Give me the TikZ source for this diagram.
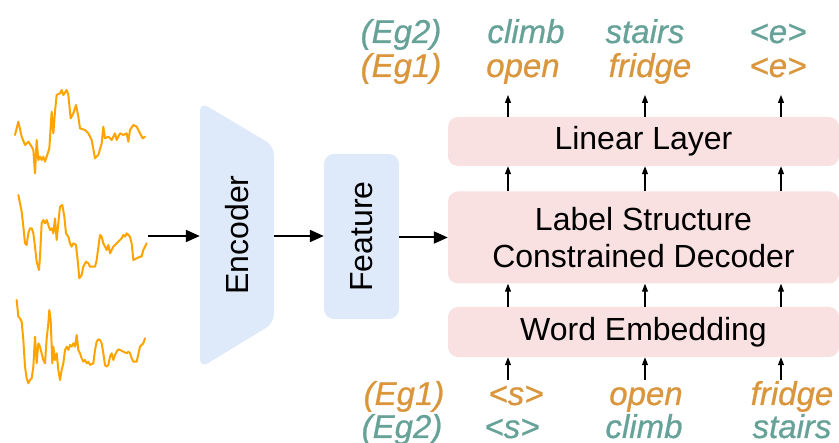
\documentclass[tikz,border=0pt]{standalone}
\usepackage{fontspec}
\setmainfont{Liberation Sans}
\newfontfamily\labfont{Liberation Sans}[ItalicFeatures={FakeBold=0.7}]
\usetikzlibrary{arrows.meta}
\definecolor{encblue}{RGB}{222,233,249}
\definecolor{decpink}{RGB}{249,224,225}
\definecolor{teal2}{RGB}{102,162,152}
\definecolor{orng}{RGB}{218,150,60}
\definecolor{wave}{RGB}{255,163,0}
\tikzset{
  bigarr/.style={line width=2pt,-{Triangle[length=14pt,width=12pt]}},
  smarr/.style={line width=1.1pt,-{Triangle[length=8pt,width=6pt]}},
  pinkbox/.style={fill=decpink,rounded corners=10pt,inner sep=0pt},
  bluebox/.style={fill=encblue,rounded corners=10pt,inner sep=0pt},
  boxtext/.style={font=\fontsize{32}{37.5}\selectfont,align=center},
  lab/.style={font=\labfont\fontsize{33}{37}\selectfont\itshape,anchor=base},
  wavy/.style={draw=wave,line width=2pt,line join=round,line cap=round},
}
\begin{document}
\begin{tikzpicture}[x=1pt,y=-1pt]
\useasboundingbox (0,0) rectangle (839,443);
% waveforms
\begin{scope}[shift={(0,80)},scale=0.33333]
\draw[wavy] (45,165)--(55,125)--(65,170)--(75,195)--(85,185)--(95,200)--(100,210)--(105,280)--(110,180)--(115,240)--(120,230)--(125,240)--(130,230)--(135,245)--(140,230)--(148,205)--(155,95)--(160,160)--(165,95)--(170,45)--(180,40)--(185,30)--(190,45)--(200,30)--(205,45)--(212,115)--(220,100)--(228,75)--(235,110)--(240,145)--(255,150)--(265,160)--(275,180)--(285,235)--(295,225)--(305,190)--(310,140)--(315,175)--(325,170)--(335,180)--(345,160)--(350,180)--(360,160)--(370,165)--(380,160)--(385,185)--(390,150)--(400,135)--(410,140)--(420,160)--(428,175)--(435,170);
\draw[wavy] (55,345)--(60,370)--(65,395)--(70,440)--(75,490)--(80,495)--(85,460)--(90,445)--(95,445)--(100,460)--(105,500)--(110,545)--(117,570)--(120,530)--(125,430)--(130,420)--(135,430)--(140,420)--(145,435)--(150,450)--(155,445)--(160,460)--(165,415)--(170,480)--(175,430)--(180,380)--(187,375)--(193,410)--(198,460)--(205,470)--(210,490)--(215,500)--(220,490)--(228,495)--(233,540)--(238,595)--(245,585)--(250,560)--(258,545)--(265,550)--(270,560)--(285,560)--(290,540)--(300,465)--(305,470)--(310,490)--(315,500)--(320,510)--(325,495)--(330,520)--(335,510)--(340,500)--(350,490)--(360,480)--(365,475)--(370,465)--(375,470)--(380,460)--(390,470)--(395,490)--(400,540)--(410,535)--(420,530)--(425,530)--(430,510)--(440,490);
\draw[wavy] (50,660)--(55,710)--(60,715)--(65,725)--(70,780)--(75,860)--(80,895)--(85,910)--(90,900)--(95,895)--(100,860)--(105,770)--(110,850)--(115,790)--(120,800)--(125,820)--(130,840)--(135,850)--(140,775)--(145,730)--(148,690)--(152,720)--(157,850)--(160,800)--(165,840)--(170,820)--(175,870)--(180,900)--(185,870)--(190,850)--(195,810)--(200,800)--(205,810)--(210,795)--(215,800)--(220,790)--(225,800)--(230,765)--(235,810)--(240,820)--(245,835)--(250,845)--(255,840)--(260,850)--(265,845)--(270,855)--(280,850)--(285,810)--(290,785)--(295,778)--(300,780)--(305,790)--(310,820)--(315,855)--(320,860)--(325,855)--(330,830)--(335,820)--(340,840)--(345,825)--(350,815)--(355,808)--(360,810)--(370,815)--(380,820)--(385,815)--(390,820)--(395,835)--(400,845)--(410,845)--(420,800)--(425,795)--(430,790)--(435,775);
\end{scope}
\coordinate (sig) at (148,236);
% encoder trapezoid
\fill[encblue,rounded corners=9pt] (200,102) -- (274,146) -- (274,323) -- (200,368) -- cycle;
\node[boxtext,rotate=90,minimum width=266pt,minimum height=74pt,inner sep=0pt] (enc) at (237,235) {Encoder};
% feature
\node[bluebox,boxtext,minimum width=75pt,minimum height=165pt] (feat) at (361.5,236.5) {};
\node[boxtext,rotate=90] at (feat.center) {Feature};
% decoder boxes
\node[pinkbox,boxtext,minimum width=391pt,minimum height=49pt] (lin) at (643.5,141.5) {Linear Layer};
\node[pinkbox,boxtext,minimum width=391pt,minimum height=92pt] (dec) at (643.5,237.5) {Label Structure\\Constrained Decoder};
\node[pinkbox,boxtext,minimum width=391pt,minimum height=50pt] (we) at (643.5,332) {Word Embedding};
% main arrows
\draw[bigarr] (sig) -- (sig -| enc.north);
\draw[bigarr] (274,236) -- (feat.west |- 274,236);
\draw[bigarr] (feat.east |- dec.west) -- (dec.west);
% columns
\coordinate (c1) at (508,0);
\coordinate (c2) at (645,0);
\coordinate (c3) at (781,0);
\foreach \c in {c1,c2,c3}{
  \draw[smarr] (lin.north -| \c) -- (\c |- 0,95);
  \draw[smarr] (dec.north -| \c) -- (lin.south -| \c);
  \draw[smarr] (we.north -| \c) -- (dec.south -| \c);
  \draw[smarr] (\c |- 0,380) -- (we.south -| \c);
}
% top labels
\node[lab,text=teal2] (te2) at (401,43) {(Eg2)};
\node[lab,text=orng] (te1) at (401,77) {(Eg1)};
\node[lab,text=teal2] (tw1) at (526,43) {climb};
\node[lab,text=orng] (tw2) at (523,77) {open};
\node[lab,text=teal2] (tw3) at (645,43) {stairs};
\node[lab,text=orng] (tw4) at (650,77) {fridge};
\node[lab,text=teal2] (tw5) at (778,43) {<e>};
\node[lab,text=orng] (tw6) at (778,77) {<e>};
% bottom labels
\node[lab,text=orng] (be1) at (404,405) {(Eg1)};
\node[lab,text=teal2] (be2) at (402,438) {(Eg2)};
\node[lab,text=orng] (bw1) at (516,405) {<s>};
\node[lab,text=teal2] (bw2) at (512,438) {<s>};
\node[lab,text=orng] (bw3) at (646,405) {open};
\node[lab,text=teal2] (bw4) at (644,438) {climb};
\node[lab,text=orng] (bw5) at (792,405) {fridge};
\node[lab,text=teal2] (bw6) at (792,438) {stairs};
\end{tikzpicture}
\end{document}
